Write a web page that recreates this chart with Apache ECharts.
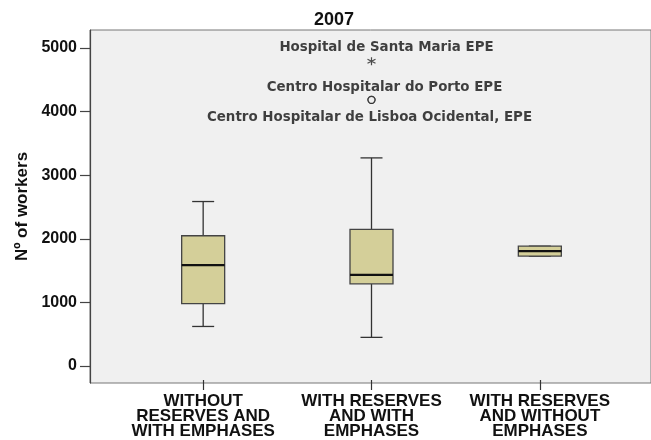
<!DOCTYPE html>
<html>
<head>
<meta charset="utf-8">
<script src="https://cdn.jsdelivr.net/npm/echarts@6/dist/echarts.min.js"></script>
<style>html,body{margin:0;padding:0;background:#fff}#c{width:651px;height:440px}</style>
</head>
<body>
<div id="c"></div>
<script>
// ---- data ----
var titleText = '2007';
var categories = ['WITHOUT\nRESERVES AND\nWITH EMPHASES', 'WITH RESERVES\nAND WITH\nEMPHASES', 'WITH RESERVES\nAND WITHOUT\nEMPHASES'];
var whiskerLow = [582, 409, 1698];
var q1 = [943, 1258, 1698];
var medians = [1556, 1400, 1777];
var q3 = [2020, 2123, 1855];
var whiskerHigh = [2563, 3255, 1855];
var extremeCat = [1];
var extremeVal = [4788];
var extremeNames = ['Hospital de Santa Maria EPE'];
var outlierCat = [1, 1];
var outlierVal = [4175, 4175];
var outlierNames = ['Centro Hospitalar do Porto EPE', 'Centro Hospitalar de Lisboa Ocidental, EPE'];
var yTicks = [0, 1000, 2000, 3000, 4000, 5000];
var yName = 'Nº of workers';

// ---- build ----
var boxData = categories.map(function (c, i) {
  return [i, whiskerLow[i], q1[i], medians[i], q3[i], whiskerHigh[i]];
});
var outlierLabelStyles = [
  { position: 'top', distance: 2, offset: [13, 0] },
  { position: 'bottom', distance: 7, offset: [-2, 0] }
];
var labelFont = { fontFamily: 'DejaVu Sans', fontWeight: 'bold', fontSize: 13.4, color: '#111' };

var yMin = -267, yMax = 5283;
var chart = echarts.init(document.getElementById('c'));
chart.setOption({
  animation: false,
  backgroundColor: '#ffffff',
  title: {
    text: titleText, left: 329, top: 6, textAlign: 'center',
    textStyle: { fontFamily: 'Liberation Sans', fontWeight: 'bold', fontSize: 18, color: '#111' }
  },
  grid: [
    { left: 90, top: 30, right: -3, bottom: 57, show: true, backgroundColor: '#f0f0f0', borderColor: '#777', borderWidth: 1 },
    { left: 119, top: 30, width: 505, bottom: 57, show: false }
  ],
  xAxis: [
    { gridIndex: 0, type: 'value', show: false, min: 0, max: 1 },
    {
      gridIndex: 1, type: 'category', data: categories, boundaryGap: true,
      axisLine: { show: false, onZero: false },
      axisTick: { show: true, alignWithLabel: true, length: 10, lineStyle: { color: '#333', width: 1.2 } },
      axisLabel: { margin: 14, fontFamily: 'Liberation Sans', fontWeight: 'bold', fontSize: 17, lineHeight: 15, color: '#111', interval: 0 }
    }
  ],
  yAxis: [
    {
      gridIndex: 0, type: 'value', min: yMin, max: yMax,
      name: yName, nameLocation: 'middle', nameGap: 58, nameRotate: 90,
      nameTextStyle: { fontFamily: 'Liberation Sans', fontWeight: 'bold', fontSize: 17, color: '#111' },
      axisLine: { show: true, lineStyle: { color: '#444', width: 1.2 } },
      axisTick: { show: true, inside: false, length: 10, customValues: yTicks, lineStyle: { color: '#444', width: 1.2 } },
      axisLabel: { customValues: yTicks, margin: 13, formatter: function (v) { return String(v); },
        fontFamily: 'Liberation Sans', fontWeight: 'bold', fontSize: 16, color: '#111' },
      splitLine: { show: false }
    },
    { gridIndex: 1, type: 'value', min: yMin, max: yMax, show: false, splitLine: { show: false } }
  ],
  series: [
    {
      type: 'custom', xAxisIndex: 1, yAxisIndex: 1,
      data: boxData,
      encode: { x: 0, y: [1, 2, 3, 4, 5] },
      renderItem: function (params, api) {
        var x = api.value(0);
        var pLo = api.coord([x, api.value(1)]);
        var pQ1 = api.coord([x, api.value(2)]);
        var pMed = api.coord([x, api.value(3)]);
        var pQ3 = api.coord([x, api.value(4)]);
        var pHi = api.coord([x, api.value(5)]);
        var cx = pMed[0];
        var bw = 43, cw = 22;
        var lineSt = { stroke: '#333', lineWidth: 1.3 };
        return {
          type: 'group',
          children: [
            { type: 'line', shape: { x1: cx, y1: pLo[1], x2: cx, y2: pQ1[1] }, style: lineSt },
            { type: 'line', shape: { x1: cx, y1: pQ3[1], x2: cx, y2: pHi[1] }, style: lineSt },
            { type: 'line', shape: { x1: cx - cw / 2, y1: pLo[1], x2: cx + cw / 2, y2: pLo[1] }, style: lineSt },
            { type: 'line', shape: { x1: cx - cw / 2, y1: pHi[1], x2: cx + cw / 2, y2: pHi[1] }, style: lineSt },
            { type: 'rect', shape: { x: cx - bw / 2, y: pQ3[1], width: bw, height: pQ1[1] - pQ3[1] },
              style: { fill: '#d4cf99', stroke: '#444', lineWidth: 1.3 } },
            { type: 'line', shape: { x1: cx - bw / 2, y1: pMed[1], x2: cx + bw / 2, y2: pMed[1] },
              style: { stroke: '#111', lineWidth: 2.2 } }
          ]
        };
      }
    },
    {
      type: 'scatter', xAxisIndex: 1, yAxisIndex: 1,
      symbol: 'path://M5,0L5,10M0.67,2.5L9.33,7.5M0.67,7.5L9.33,2.5',
      symbolSize: 8,
      itemStyle: { color: 'none', borderColor: '#222', borderWidth: 1.2 },
      data: extremeVal.map(function (v, i) {
        return { value: [extremeCat[i], v], name: extremeNames[i] };
      }),
      label: Object.assign({ show: true, position: 'top', distance: 1, offset: [15, 0], formatter: '{b}' }, labelFont)
    },
    {
      type: 'scatter', xAxisIndex: 1, yAxisIndex: 1,
      symbol: 'circle', symbolSize: 7,
      itemStyle: { color: '#f0f0f0', borderColor: '#222', borderWidth: 1.3 },
      data: outlierVal.map(function (v, i) {
        return { value: [outlierCat[i], v], name: outlierNames[i],
          label: Object.assign({ show: true, formatter: '{b}' }, labelFont, outlierLabelStyles[i]) };
      })
    }
  ]
});
</script>
</body>
</html>
